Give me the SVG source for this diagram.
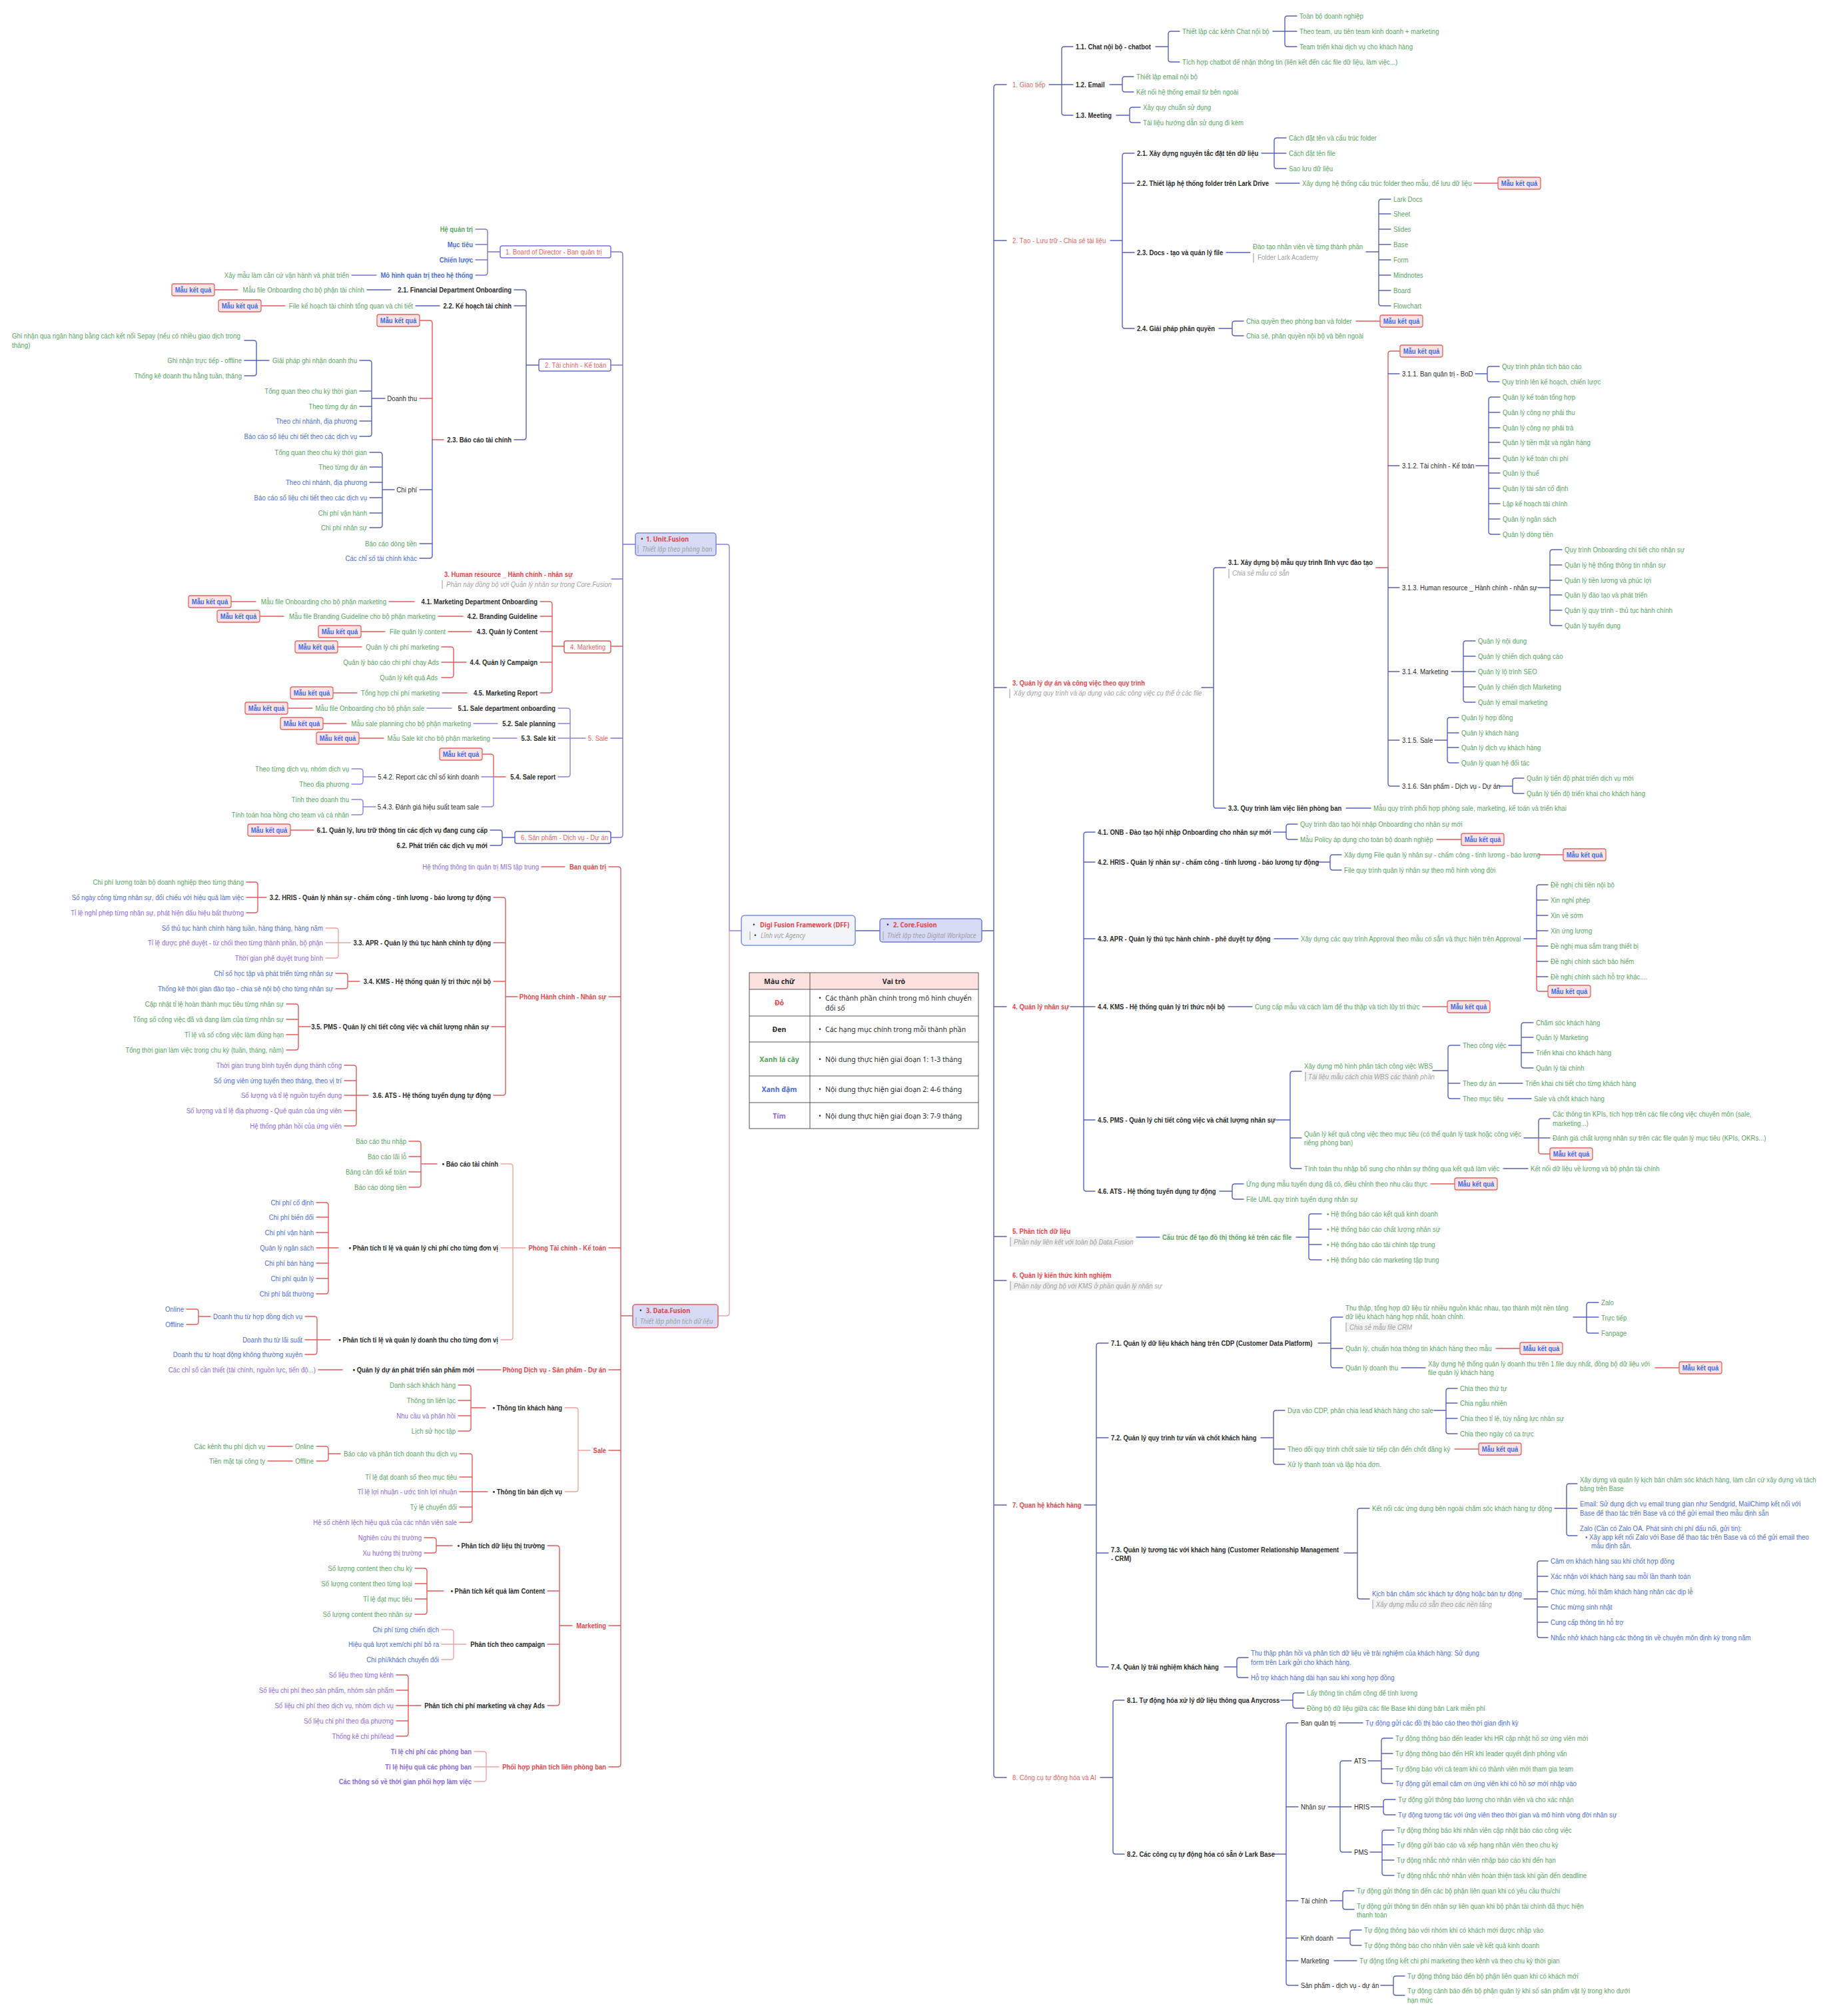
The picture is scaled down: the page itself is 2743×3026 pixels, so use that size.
<svg xmlns="http://www.w3.org/2000/svg" width="2743" height="3026" viewBox="0 0 2743 3026">
<style>
text{font-family:"Liberation Sans Narrow","Arial Narrow","Liberation Sans",sans-serif;font-size:11px;transform-box:fill-box;transform-origin:0 50%;transform:scaleX(.88)}
.e{text-anchor:end;transform-origin:100% 50%}.B{font-weight:bold;transform:scaleX(.86)}
.g{fill:#58a45f}.b{fill:#4a6dd6}.p{fill:#8b68d9}.k{fill:#2b2b2b}.r{fill:#e2474b}.rl{fill:#e36464}.n{fill:#a0a0a0;font-style:italic}
.c path{fill:none;stroke-width:1.4;stroke-linecap:round}
.cb{stroke:#5561b8}.cr{stroke:#e05b5b}.cpk{stroke:#eea3a3}.cv{stroke:#8f7fe0}.cu{stroke:#7b72d6}
.mk rect{fill:#fde2e2;stroke:#e06565;stroke-width:1.3}
.mk text{fill:#3a6cf0;font-weight:bold;font-size:10.5px;text-anchor:middle;transform-origin:50% 50%;transform:scaleX(.9)}
.bx{stroke-width:1.5}
.lg text{font-family:"Noto Sans",sans-serif;font-size:10.5px;transform:none}
.ft{font-family:"Noto Sans",sans-serif;font-size:10.5px;transform:scaleX(.9)}
.bar{stroke:#aaa;stroke-width:1.2}
</style>
<rect width="2743" height="3026" fill="#fff"/>

<g id="connectors" class="c">
<path class="cv" d="M1075,817H1091q4,0 4,4V1397H1113"/>
<path class="cpk" d="M1078,1975H1091q4,0 4,-4V1397"/>
<path class="cb" d="M1284,1397H1321M1474,1397H1492"/>
<path class="cu" d="M917,378H931q4,0 4,4V1253q0,4 -4,4H917M917,548H935M918,869H935M917,1108H935M935,817H954"/>
<path class="cr" d="M917,970H935"/>
<path class="cu" d="M714,344H728q4,0 4,4V409q0,4 -4,4H714M714,367H732M714,390H732M732,378H751M528,413H565"/>
<path class="cb" d="M772,435H786q4,0 4,4V656q0,4 -4,4H772M772,459H790M790,548H809M551,435H587M624,459H660"/>
<path class="cr" d="M322,435H357M392,459H428"/>
<path class="cr" d="M631,481H645q4,0 4,4V660M630,598H649M649,660H666"/>
<path class="cb" d="M649,660V834q0,4 -4,4H630M630,735H649M630,816H649"/>
<path class="cb" d="M540,541H554q4,0 4,4V651q0,4 -4,4H540M540,587H558M540,610H558M540,632H558M558,598H578"/>
<path class="cb" d="M367,511H381q4,0 4,4V560q0,4 -4,4H367M367,541H404"/>
<path class="cb" d="M555,679H570q4,0 4,4V788q0,4 -4,4H555M555,701H574M555,724H574M555,747H574M555,770H574M574,735H592"/>
<path class="cr" d="M811,903H825q4,0 4,4V1036q0,4 -4,4H811M811,925H829M811,948H829M811,994H829M829,970H847"/>
<path class="cr" d="M584,903H622M658,925H695M673,948H708M664,1040H701M347,903H384M390,925H426M542,948H578M507,971H543M500,1040H536"/>
<path class="cr" d="M663,971H677q4,0 4,4V1013q0,4 -4,4H663M663,994H700"/>
<path class="cv" d="M838,1063H852q4,0 4,4V1162q0,4 -4,4H838M838,1086H856M838,1108H879M641,1063H678M711,1086H747M740,1108H776"/>
<path class="cr" d="M432,1063H469M485,1086H520M539,1108H576M724,1132H737q4,0 4,4V1166H759"/>
<path class="cv" d="M741,1166V1207q0,4 -4,4H723M723,1166H741"/>
<path class="cv" d="M528,1154H541q4,0 4,4V1173q0,4 -4,4H528M545,1166H564M528,1200H541q4,0 4,4V1219q0,4 -4,4H528M545,1211H564"/>
<path class="cb" d="M736,1246H750q4,0 4,4V1265q0,4 -4,4H736M754,1257H773"/>
<path class="cr" d="M436,1246H471"/>
<path class="cr" d="M914,1301H928q4,0 4,4V2648q0,4 -4,4H914M914,1496H932M914,1873H932M914,2056H932M914,2177H932M914,2440H932M932,1975H950M813,1301H848"/>
<path class="cr" d="M741,1347H755q4,0 4,4V1640q0,4 -4,4H741M741,1415H759M741,1473H759M738,1541H759M759,1496H777"/>
<path class="cr" d="M370,1324H383q4,0 4,4V1366q0,4 -4,4H370M370,1347H400"/>
<path class="cpk" d="M489,1393H504q4,0 4,4V1434q0,4 -4,4H489M489,1415H526"/>
<path class="cr" d="M504,1461H518q4,0 4,4V1480q0,4 -4,4H504M522,1473H540"/>
<path class="cr" d="M430,1507H444q4,0 4,4V1572q0,4 -4,4H430M430,1530H448M430,1553H448M448,1541H466"/>
<path class="cr" d="M517,1599H531q4,0 4,4V1686q0,4 -4,4H517M517,1622H535M517,1667H535M517,1644H553"/>
<path class="cpk" d="M752,1747H766q4,0 4,4V2007q0,4 -4,4H752M752,1873H789"/>
<path class="cr" d="M614,1713H628q4,0 4,4V1778q0,4 -4,4H614M614,1736H632M614,1759H632M632,1747H656"/>
<path class="cr" d="M475,1805H489q4,0 4,4V1938q0,4 -4,4H475M475,1827H493M475,1850H493M475,1873H508M475,1896H493M475,1919H493"/>
<path class="cr" d="M458,1976H472q4,0 4,4V2029q0,4 -4,4H458M458,2011H496M280,1965H294q4,0 4,4V1984q0,4 -4,4H280M298,1976H316"/>
<path class="cr" d="M716,2056H752M478,2056H514"/>
<path class="cpk" d="M848,2113H864q4,0 4,4V2235q0,4 -4,4H848M868,2177H886"/>
<path class="cr" d="M688,2079H703q4,0 4,4V2144q0,4 -4,4H688M688,2102H707M688,2125H707M707,2113H729"/>
<path class="cr" d="M690,2182H705q4,0 4,4V2281q0,4 -4,4H690M690,2217H709M690,2262H709M690,2239H732"/>
<path class="cr" d="M475,2171H489q4,0 4,4V2189q0,4 -4,4H475M493,2182H511M402,2171H439M402,2193H439"/>
<path class="cr" d="M822,2320H836q4,0 4,4V2556q0,4 -4,4H822M822,2388H840M822,2468H840M840,2440H859"/>
<path class="cr" d="M637,2308H651q4,0 4,4V2327q0,4 -4,4H637M655,2320H679"/>
<path class="cr" d="M623,2354H637q4,0 4,4V2419q0,4 -4,4H623M623,2377H641M623,2400H641M641,2388H666"/>
<path class="cpk" d="M663,2446H677q4,0 4,4V2487q0,4 -4,4H663M663,2468H700"/>
<path class="cr" d="M595,2514H609q4,0 4,4V2602q0,4 -4,4H595M595,2537H613M595,2583H613M595,2560H632"/>
<path class="cpk" d="M712,2629H726q4,0 4,4V2670q0,4 -4,4H712M712,2652H749"/>
<path class="cb" d="M1511,127H1496q-4,0 -4,4V2664q0,4 4,4H1511M1492,361H1511M1492,1032H1511M1492,1511H1511M1492,1856H1511M1492,1922H1511M1492,2259H1511"/>
<path class="cb" d="M1575,127H1594M1611,70H1598q-4,0 -4,4V169q0,4 4,4H1611M1594,127H1611"/>
<path class="cb" d="M1735,70H1754M1771,47H1758q-4,0 -4,4V89q0,4 4,4H1771M1911,47H1947M1947,24H1933q-4,0 -4,4V66q0,4 4,4H1947"/>
<path class="cb" d="M1666,127H1685M1702,115H1689q-4,0 -4,4V134q0,4 4,4H1702M1676,173H1696M1712,161H1700q-4,0 -4,4V180q0,4 4,4H1712"/>
<path class="cb" d="M1667,361H1685M1703,230H1689q-4,0 -4,4V489q0,4 4,4H1703M1685,275H1703M1685,379H1703"/>
<path class="cb" d="M1894,230H1931M1931,207H1917q-4,0 -4,4V249q0,4 4,4H1931M1915,275H1951M1841,379H1877"/>
<path class="cr" d="M2213,275H2249M2036,482H2072"/>
<path class="cb" d="M2051,378H2070M2088,299H2074q-4,0 -4,4V455q0,4 4,4H2088M2070,321H2088M2070,344H2088M2070,367H2088M2070,390H2088M2070,413H2088M2070,436H2088"/>
<path class="cb" d="M1830,493H1850M1867,482H1854q-4,0 -4,4V500q0,4 4,4H1867"/>
<path class="cb" d="M1804,1032H1822M1840,852H1826q-4,0 -4,4V1209q0,4 4,4H1840M2021,1213H2058"/>
<path class="cr" d="M2066,852H2084V531q0,-4 4,-4H2102"/>
<path class="cb" d="M2084,852V1176q0,4 4,4H2101M2084,561H2101M2084,699H2101M2084,882H2101M2084,1008H2101M2084,1111H2101"/>
<path class="cb" d="M2215,561H2233M2251,550H2237q-4,0 -4,4V569q0,4 4,4H2251"/>
<path class="cb" d="M2216,699H2235M2252,596H2239q-4,0 -4,4V798q0,4 4,4H2252M2235,619H2252M2235,642H2252M2235,664H2252M2235,688H2252M2235,710H2252M2235,733H2252M2235,756H2252M2235,779H2252"/>
<path class="cb" d="M2309,882H2327M2345,825H2331q-4,0 -4,4V935q0,4 4,4H2345M2327,848H2345M2327,871H2345M2327,893H2345M2327,916H2345"/>
<path class="cb" d="M2179,1008H2215M2215,962H2201q-4,0 -4,4V1050q0,4 4,4H2215M2197,985H2215M2197,1031H2215"/>
<path class="cb" d="M2154,1111H2173M2190,1077H2177q-4,0 -4,4V1141q0,4 4,4H2190M2173,1100H2190M2173,1122H2190"/>
<path class="cb" d="M2251,1180H2271M2288,1168H2275q-4,0 -4,4V1187q0,4 4,4H2288"/>
<path class="cb" d="M1607,1511H1644M1644,1249H1631q-4,0 -4,4V1784q0,4 4,4H1644M1627,1294H1644M1627,1409H1644M1627,1681H1644"/>
<path class="cb" d="M1912,1249H1931M1948,1237H1935q-4,0 -4,4V1256q0,4 4,4H1948M1978,1294H1997M2014,1283H2001q-4,0 -4,4V1302q0,4 4,4H2014"/>
<path class="cr" d="M2157,1260H2194M2310,1283H2347M2136,1511H2173M2148,1777H2184M2246,2024H2282M2485,2053H2521M2184,2175H2220"/>
<path class="cb" d="M1913,1409H1949M2288,1409H2307M2324,1328H2311q-4,0 -4,4V1409M2307,1351H2324M2307,1374H2324M2307,1397H2324M2307,1420H2324M2307,1443H2324M2307,1466H2324"/>
<path class="cr" d="M2307,1409V1484q0,4 4,4H2324"/>
<path class="cb" d="M1844,1511H1880"/>
<path class="cb" d="M1916,1681H1937M1954,1608H1941q-4,0 -4,4V1750q0,4 4,4H1954M1937,1708H1954"/>
<path class="cb" d="M2151,1607H2174M2192,1569H2178q-4,0 -4,4V1645q0,4 4,4H2192M2174,1626H2192M2265,1569H2284M2302,1535H2288q-4,0 -4,4V1599q0,4 4,4H2302M2284,1557H2302M2284,1580H2302M2250,1626H2286M2264,1649H2299"/>
<path class="cb" d="M2288,1708H2327M2327,1679H2314q-4,0 -4,4V1708M2257,1754H2294"/>
<path class="cr" d="M2310,1708V1728q0,4 4,4H2327"/>
<path class="cb" d="M1831,1788H1850M1867,1777H1854q-4,0 -4,4V1796q0,4 4,4H1867"/>
<path class="cb" d="M1706,1857H1741M1946,1857H1965M1984,1822H1969q-4,0 -4,4V1887q0,4 4,4H1984M1965,1845H1984M1965,1868H1984"/>
<path class="cb" d="M1628,2259H1646M1664,2016H1650q-4,0 -4,4V2498q0,4 4,4H1664M1646,2158H1664M1646,2331H1664"/>
<path class="cb" d="M1979,2016H1998M2016,1977H2002q-4,0 -4,4V2049q0,4 4,4H2016M1998,2024H2016M2362,1977H2400M2400,1955H2386q-4,0 -4,4V1997q0,4 4,4H2400M2104,2053H2140"/>
<path class="cb" d="M1893,2158H1912M1929,2117H1916q-4,0 -4,4V2194q0,4 4,4H1929M1912,2175H1929M2153,2117H2171M2188,2084H2175q-4,0 -4,4V2148q0,4 4,4H2188M2171,2106H2188M2171,2129H2188"/>
<path class="cb" d="M2018,2331H2038M2056,2264H2042q-4,0 -4,4V2396q0,4 4,4H2056M2334,2264H2368M2368,2227H2356q-4,0 -4,4V2301q0,4 4,4H2368"/>
<path class="cb" d="M2288,2400H2308M2324,2343H2312q-4,0 -4,4V2454q0,4 4,4H2324M2308,2366H2324M2308,2389H2324M2308,2412H2324M2308,2435H2324"/>
<path class="cb" d="M1838,2502H1857M1874,2488H1861q-4,0 -4,4V2514q0,4 4,4H1874"/>
<path class="cb" d="M1652,2668H1671M1688,2552H1675q-4,0 -4,4V2779q0,4 4,4H1688M1923,2552H1941M1958,2541H1945q-4,0 -4,4V2560q0,4 4,4H1958"/>
<path class="cb" d="M1913,2783H1931M1949,2586H1935q-4,0 -4,4V2976q0,4 4,4H1949M1931,2712H1949M1931,2853H1949M1931,2909H1949M1931,2943H1949M2010,2586H2046"/>
<path class="cb" d="M1994,2712H2029M2029,2643H2016q-4,0 -4,4V2776q0,4 4,4H2029M2054,2643H2074M2091,2609H2078q-4,0 -4,4V2673q0,4 4,4H2091M2074,2632H2091M2074,2655H2091"/>
<path class="cb" d="M2058,2712H2077M2095,2701H2081q-4,0 -4,4V2720q0,4 4,4H2095M2057,2780H2075M2093,2747H2079q-4,0 -4,4V2811q0,4 4,4H2093M2075,2769H2093M2075,2792H2093"/>
<path class="cb" d="M1997,2853H2016M2033,2838H2020q-4,0 -4,4V2862q0,4 4,4H2033M2008,2909H2027M2044,2897H2031q-4,0 -4,4V2916q0,4 4,4H2044M2003,2943H2037M2073,2980H2092M2109,2966H2096q-4,0 -4,4V2991q0,4 4,4H2109"/>
</g>

<g id="root"><rect x="1113" y="1374" width="171" height="45" rx="5" fill="#f2f3f7" stroke="#7a93d8" class="bx"/><text class="ft k" x="1130" y="1392">•</text><text class="ft r B" x="1141" y="1392">Digi Fusion Framework (DFF)</text><line class="bar" x1="1126" y1="1398" x2="1126" y2="1411"/><text class="ft k" x="1132" y="1408">•</text><text class="ft n" x="1142" y="1408">Lĩnh vực Agency</text></g>
<g id="core"><rect x="1321" y="1379" width="153" height="35" rx="4" fill="#d6daf4" stroke="#6f7dd0" class="bx"/><text class="ft k" x="1331" y="1392">•</text><text class="ft r B" x="1341" y="1392">2. Core.Fusion</text><line class="bar" x1="1326" y1="1398" x2="1326" y2="1411"/><text class="ft n" x="1332" y="1408">Thiết lập theo Digital Workplace</text></g>
<g id="unit"><rect x="954" y="800" width="121" height="34" rx="4" fill="#d6daf4" stroke="#7b86d6" class="bx"/><text class="ft k" x="962" y="813">•</text><text class="ft r B" x="970" y="813">1. Unit.Fusion</text><line class="bar" x1="958" y1="818" x2="958" y2="831"/><text class="ft n" x="964" y="828">Thiết lập theo phòng ban</text></g>
<g id="data"><rect x="950" y="1958" width="128" height="35" rx="4" fill="#d6daf4" stroke="#e06060" class="bx"/><text class="ft k" x="960" y="1971">•</text><text class="ft r B" x="970" y="1971">3. Data.Fusion</text><line class="bar" x1="955" y1="1977" x2="955" y2="1990"/><text class="ft n" x="961" y="1987">Thiết lập phân tích dữ liệu</text></g>

<g id="legend" class="lg">
<rect x="1125" y="1460" width="344" height="25" fill="#fde0e0"/>
<rect x="1125" y="1460" width="344" height="234" fill="none" stroke="#555" stroke-width="1"/>
<path d="M1216,1460V1694M1125,1485H1469M1125,1525H1469M1125,1564H1469M1125,1615H1469M1125,1655H1469" stroke="#555" stroke-width="1" fill="none"/>
<text x="1170" y="1477" text-anchor="middle" class="k B">Màu chữ</text>
<text x="1342" y="1477" text-anchor="middle" class="k B">Vai trò</text>
<text x="1170" y="1509" text-anchor="middle" class="r B">Đỏ</text>
<text x="1229" y="1502" class="k">•</text><text x="1239" y="1502" class="k">Các thành phần chính trong mô hình chuyển</text><text x="1239" y="1517" class="k">đổi số</text>
<text x="1170" y="1549" text-anchor="middle" class="k B">Đen</text>
<text x="1229" y="1549" class="k">•</text><text x="1239" y="1549" class="k">Các hạng mục chính trong mỗi thành phần</text>
<text x="1170" y="1594" text-anchor="middle" class="g B">Xanh lá cây</text>
<text x="1229" y="1594" class="k">•</text><text x="1239" y="1594" class="k">Nội dung thực hiện giai đoạn 1: 1-3 tháng</text>
<text x="1170" y="1639" text-anchor="middle" class="b B">Xanh đậm</text>
<text x="1229" y="1639" class="k">•</text><text x="1239" y="1639" class="k">Nội dung thực hiện giai đoạn 2: 4-6 tháng</text>
<text x="1170" y="1679" text-anchor="middle" class="p B">Tím</text>
<text x="1229" y="1679" class="k">•</text><text x="1239" y="1679" class="k">Nội dung thực hiện giai đoạn 3: 7-9 tháng</text>
</g>

<g id="u-board"><rect x="751" y="369" width="166" height="18" rx="3" fill="#fff" stroke="#7b72d6" class="bx"/><text class="rl" x="759" y="382">1. Board of Director - Ban quản trị</text></g>
<g id="u1"><text class="g B e" x="710" y="348">Hệ quản trị</text></g>
<g id="u2"><text class="b B e" x="710" y="371">Mục tiêu</text></g>
<g id="u3"><text class="b B e" x="710" y="394">Chiến lược</text></g>
<g id="u4"><text class="b B e" x="710" y="417">Mô hình quản trị theo hệ thống</text></g>
<g id="u5"><text class="g e" x="524" y="417">Xây mẫu làm căn cứ vận hành và phát triển</text></g>
<g id="u-tc"><rect x="809" y="539" width="108" height="18" rx="3" fill="#fff" stroke="#6670c8" class="bx"/><text class="rl" x="818" y="552">2. Tài chính - Kế toán</text></g>
<g id="u6"><text class="k B e" x="768" y="439">2.1. Financial Department Onboarding</text></g>
<g id="u7"><text class="g e" x="547" y="439">Mẫu file Onboarding cho bộ phận tài chính</text></g>
<g id="mk1" class="mk"><rect x="258" y="426" width="64" height="18" rx="3"/><text x="290" y="439">Mẫu kết quả</text></g>
<g id="u8"><text class="k B e" x="768" y="463">2.2. Kế hoạch tài chính</text></g>
<g id="u9"><text class="g e" x="620" y="463">File kế hoạch tài chính tổng quan và chi tiết</text></g>
<g id="mk2" class="mk"><rect x="328" y="450" width="64" height="18" rx="3"/><text x="360" y="463">Mẫu kết quả</text></g>
<g id="u10"><text class="k B e" x="768" y="664">2.3. Báo cáo tài chính</text></g>
<g id="mk3" class="mk"><rect x="566" y="472" width="64" height="18" rx="3"/><text x="598" y="485">Mẫu kết quả</text></g>
<g id="u11"><text class="k e" x="626" y="602">Doanh thu</text></g>
<g id="u12"><text class="g e" x="536" y="545">Giải pháp ghi nhận doanh thu</text></g>
<g id="u13"><text class="g" x="18" y="508">Ghi nhận qua ngân hàng bằng cách kết nối Sepay (nếu có nhiều giao dịch trong</text><text class="g" x="18" y="522">tháng)</text></g>
<g id="u14"><text class="g e" x="363" y="545">Ghi nhận trực tiếp - offline</text></g>
<g id="u15"><text class="g e" x="363" y="568">Thống kê doanh thu hằng tuần, tháng</text></g>
<g id="u16"><text class="g e" x="536" y="591">Tổng quan theo chu kỳ thời gian</text></g>
<g id="u17"><text class="g e" x="536" y="614">Theo từng dự án</text></g>
<g id="u18"><text class="b e" x="536" y="636">Theo chi nhánh, địa phương</text></g>
<g id="u19"><text class="b e" x="536" y="659">Báo cáo số liệu chi tiết theo các dịch vụ</text></g>
<g id="u20"><text class="k e" x="626" y="739">Chi phí</text></g>
<g id="u21"><text class="g e" x="551" y="683">Tổng quan theo chu kỳ thời gian</text></g>
<g id="u22"><text class="g e" x="551" y="705">Theo từng dự án</text></g>
<g id="u23"><text class="b e" x="551" y="728">Theo chi nhánh, địa phương</text></g>
<g id="u24"><text class="b e" x="551" y="751">Báo cáo số liệu chi tiết theo các dịch vụ</text></g>
<g id="u25"><text class="g e" x="551" y="774">Chi phí vận hành</text></g>
<g id="u26"><text class="g e" x="551" y="796">Chi phí nhân sự</text></g>
<g id="u27"><text class="g e" x="626" y="820">Báo cáo dòng tiền</text></g>
<g id="u28"><text class="b e" x="626" y="842">Các chỉ số tài chính khác</text></g>
<g id="u-hr"><text class="r B" x="667" y="866">3. Human resource _ Hành chính - nhân sự</text><line class="bar" x1="664" y1="871" x2="664" y2="884"/><text class="n" x="670" y="881">Phần này đồng bộ với Quản lý nhân sự trong Core.Fusion</text></g>
<g id="u-mkt"><rect x="847" y="962" width="70" height="18" rx="3" fill="#fff" stroke="#e05b5b" class="bx"/><text class="rl" x="856" y="975">4. Marketing</text></g>
<g id="u29"><text class="k B e" x="807" y="907">4.1. Marketing Department Onboarding</text></g>
<g id="u30"><text class="g e" x="580" y="907">Mẫu file Onboarding cho bộ phận marketing</text></g>
<g id="mk4" class="mk"><rect x="283" y="894" width="64" height="18" rx="3"/><text x="315" y="907">Mẫu kết quả</text></g>
<g id="u31"><text class="k B e" x="807" y="929">4.2. Branding Guideline</text></g>
<g id="u32"><text class="g e" x="654" y="929">Mẫu file Branding Guideline cho bộ phận marketing</text></g>
<g id="mk5" class="mk"><rect x="326" y="916" width="64" height="18" rx="3"/><text x="358" y="929">Mẫu kết quả</text></g>
<g id="u33"><text class="k B e" x="807" y="952">4.3. Quản lý Content</text></g>
<g id="u34"><text class="g e" x="669" y="952">File quản lý content</text></g>
<g id="mk6" class="mk"><rect x="478" y="939" width="64" height="18" rx="3"/><text x="510" y="952">Mẫu kết quả</text></g>
<g id="u35"><text class="k B e" x="807" y="998">4.4. Quản lý Campaign</text></g>
<g id="u36"><text class="g e" x="659" y="975">Quản lý chi phí marketing</text></g>
<g id="mk7" class="mk"><rect x="443" y="962" width="64" height="18" rx="3"/><text x="475" y="975">Mẫu kết quả</text></g>
<g id="u37"><text class="g e" x="659" y="998">Quản lý báo cáo chi phí chạy Ads</text></g>
<g id="u38"><text class="g e" x="657" y="1021">Quản lý kết quả Ads</text></g>
<g id="u39"><text class="k B e" x="807" y="1044">4.5. Marketing Report</text></g>
<g id="u40"><text class="g e" x="660" y="1044">Tổng hợp chi phí marketing</text></g>
<g id="mk8" class="mk"><rect x="436" y="1031" width="64" height="18" rx="3"/><text x="468" y="1044">Mẫu kết quả</text></g>
<g id="u-sale"><text class="rl e" x="913" y="1112">5. Sale</text></g>
<g id="u41"><text class="k B e" x="834" y="1067">5.1. Sale department onboarding</text></g>
<g id="u42"><text class="g e" x="637" y="1067">Mẫu file Onboarding cho bộ phận sale</text></g>
<g id="mk9" class="mk"><rect x="368" y="1054" width="64" height="18" rx="3"/><text x="400" y="1067">Mẫu kết quả</text></g>
<g id="u43"><text class="k B e" x="834" y="1090">5.2. Sale planning</text></g>
<g id="u44"><text class="g e" x="707" y="1090">Mẫu sale planning cho bộ phận marketing</text></g>
<g id="mk10" class="mk"><rect x="421" y="1077" width="64" height="18" rx="3"/><text x="453" y="1090">Mẫu kết quả</text></g>
<g id="u45"><text class="k B e" x="834" y="1112">5.3. Sale kit</text></g>
<g id="u46"><text class="g e" x="736" y="1112">Mẫu Sale kit cho bộ phận marketing</text></g>
<g id="mk11" class="mk"><rect x="475" y="1099" width="64" height="18" rx="3"/><text x="507" y="1112">Mẫu kết quả</text></g>
<g id="u47"><text class="k B e" x="834" y="1170">5.4. Sale report</text></g>
<g id="mk12" class="mk"><rect x="660" y="1123" width="64" height="18" rx="3"/><text x="692" y="1136">Mẫu kết quả</text></g>
<g id="u48"><text class="k e" x="719" y="1170">5.4.2. Report các chỉ số kinh doanh</text></g>
<g id="u49"><text class="g e" x="524" y="1158">Theo từng dịch vụ, nhóm dịch vụ</text></g>
<g id="u50"><text class="g e" x="524" y="1181">Theo địa phương</text></g>
<g id="u51"><text class="k e" x="719" y="1215">5.4.3. Đánh giá hiệu suất team sale</text></g>
<g id="u52"><text class="g e" x="524" y="1204">Tính theo doanh thu</text></g>
<g id="u53"><text class="g e" x="524" y="1227">Tính toán hoa hồng cho team và cá nhân</text></g>
<g id="u-sp"><rect x="773" y="1248" width="144" height="18" rx="3" fill="#fff" stroke="#5561b8" class="bx"/><text class="rl" x="782" y="1261">6. Sản phẩm - Dịch vụ - Dự án</text></g>
<g id="u54"><text class="k B e" x="732" y="1250">6.1. Quản lý, lưu trữ thông tin các dịch vụ đang cung cấp</text></g>
<g id="mk13" class="mk"><rect x="372" y="1237" width="64" height="18" rx="3"/><text x="404" y="1250">Mẫu kết quả</text></g>
<g id="u55"><text class="k B e" x="732" y="1273">6.2. Phát triển các dịch vụ mới</text></g>

<g id="d1"><text class="p e" x="809" y="1305">Hệ thống thông tin quản trị MIS tập trung</text></g>
<g id="d-bqt"><text class="r B e" x="910" y="1305">Ban quản trị</text></g>
<g id="d-hc"><text class="r B e" x="910" y="1500">Phòng Hành chính - Nhân sự</text></g>
<g id="d2"><text class="k B e" x="737" y="1351">3.2. HRIS - Quản lý nhân sự - chấm công - tính lương - báo lương tự động</text></g>
<g id="d3"><text class="g e" x="366" y="1328">Chi phí lương toàn bộ doanh nghiệp theo từng tháng</text></g>
<g id="d4"><text class="b e" x="366" y="1351">Số ngày công từng nhân sự, đối chiếu với hiệu quả làm việc</text></g>
<g id="d5"><text class="p e" x="366" y="1374">Tỉ lệ nghỉ phép từng nhân sự, phát hiện dấu hiệu bất thường</text></g>
<g id="d6"><text class="k B e" x="737" y="1419">3.3. APR - Quản lý thủ tục hành chính tự động</text></g>
<g id="d7"><text class="b e" x="485" y="1397">Số thủ tục hành chính hàng tuần, hàng tháng, hàng năm</text></g>
<g id="d8"><text class="p e" x="485" y="1419">Tỉ lệ được phê duyệt - từ chối theo từng thành phần, bộ phận</text></g>
<g id="d9"><text class="p e" x="485" y="1442">Thời gian phê duyệt trung bình</text></g>
<g id="d10"><text class="k B e" x="737" y="1477">3.4. KMS - Hệ thống quản lý tri thức nội bộ</text></g>
<g id="d11"><text class="b e" x="500" y="1465">Chỉ số học tập và phát triển từng nhân sự</text></g>
<g id="d12"><text class="b e" x="500" y="1488">Thống kê thời gian đào tạo - chia sẻ nội bộ cho từng nhân sự</text></g>
<g id="d13"><text class="k B e" x="734" y="1545">3.5. PMS - Quản lý chi tiết công việc và chất lượng nhân sự</text></g>
<g id="d14"><text class="g e" x="426" y="1511">Cập nhật tỉ lệ hoàn thành mục tiêu từng nhân sự</text></g>
<g id="d15"><text class="g e" x="426" y="1534">Tổng số công việc đã và đang làm của từng nhân sự</text></g>
<g id="d16"><text class="g e" x="426" y="1557">Tỉ lệ và số công việc làm đúng hạn</text></g>
<g id="d17"><text class="g e" x="426" y="1580">Tổng thời gian làm việc trong chu kỳ (tuần, tháng, năm)</text></g>
<g id="d18"><text class="k B e" x="737" y="1648">3.6. ATS - Hệ thống tuyển dụng tự động</text></g>
<g id="d19"><text class="p e" x="513" y="1603">Thời gian trung bình tuyển dụng thành công</text></g>
<g id="d20"><text class="b e" x="513" y="1626">Số ứng viên ứng tuyển theo tháng, theo vị trí</text></g>
<g id="d21"><text class="p e" x="513" y="1648">Số lượng và tỉ lệ nguồn tuyển dụng</text></g>
<g id="d22"><text class="p e" x="513" y="1671">Số lượng và tỉ lệ địa phương - Quê quán của ứng viên</text></g>
<g id="d23"><text class="p e" x="513" y="1694">Hệ thống phản hồi của ứng viên</text></g>
<g id="d-tc"><text class="r B e" x="910" y="1877">Phòng Tài chính - Kế toán</text></g>
<g id="d24"><text class="k B e" x="748" y="1751">• Báo cáo tài chính</text></g>
<g id="d25"><text class="g e" x="610" y="1717">Báo cáo thu nhập</text></g>
<g id="d26"><text class="g e" x="610" y="1740">Báo cáo lãi lỗ</text></g>
<g id="d27"><text class="g e" x="610" y="1763">Bảng cân đối kế toán</text></g>
<g id="d28"><text class="g e" x="610" y="1786">Báo cáo dòng tiền</text></g>
<g id="d29"><text class="k B e" x="748" y="1877">• Phân tích tỉ lệ và quản lý chi phí cho từng đơn vị</text></g>
<g id="d30"><text class="b e" x="471" y="1809">Chi phí cố định</text></g>
<g id="d31"><text class="b e" x="471" y="1831">Chi phí biến đổi</text></g>
<g id="d32"><text class="b e" x="471" y="1854">Chi phí vận hành</text></g>
<g id="d33"><text class="b e" x="471" y="1877">Quản lý ngân sách</text></g>
<g id="d34"><text class="b e" x="471" y="1900">Chi phí bán hàng</text></g>
<g id="d35"><text class="b e" x="471" y="1923">Chi phí quản lý</text></g>
<g id="d36"><text class="b e" x="471" y="1946">Chi phí bất thường</text></g>
<g id="d37"><text class="k B e" x="748" y="2015">• Phân tích tỉ lệ và quản lý doanh thu cho từng đơn vị</text></g>
<g id="d38"><text class="b e" x="454" y="1980">Doanh thu từ hợp đồng dịch vụ</text></g>
<g id="d39"><text class="b e" x="276" y="1969">Online</text></g>
<g id="d40"><text class="b e" x="276" y="1992">Offline</text></g>
<g id="d41"><text class="b e" x="454" y="2015">Doanh thu từ lãi suất</text></g>
<g id="d42"><text class="b e" x="454" y="2037">Doanh thu từ hoạt động không thường xuyên</text></g>
<g id="d-dv"><text class="r B e" x="910" y="2060">Phòng Dịch vụ - Sản phẩm - Dự án</text></g>
<g id="d43"><text class="k B e" x="712" y="2060">• Quản lý dự án phát triển sản phẩm mới</text></g>
<g id="d44"><text class="p e" x="474" y="2060">Các chỉ số cần thiết (tài chính, nguồn lực, tiến độ...)</text></g>
<g id="d-sale"><text class="r B e" x="910" y="2181">Sale</text></g>
<g id="d45"><text class="k B e" x="844" y="2117">• Thông tin khách hàng</text></g>
<g id="d46"><text class="g e" x="684" y="2083">Danh sách khách hàng</text></g>
<g id="d47"><text class="g e" x="684" y="2106">Thông tin liên lạc</text></g>
<g id="d48"><text class="p e" x="684" y="2129">Nhu cầu và phản hồi</text></g>
<g id="d49"><text class="g e" x="684" y="2152">Lịch sử học tập</text></g>
<g id="d50"><text class="k B e" x="844" y="2243">• Thông tin bán dịch vụ</text></g>
<g id="d51"><text class="g e" x="686" y="2186">Báo cáo và phân tích doanh thu dịch vụ</text></g>
<g id="d52"><text class="g e" x="471" y="2175">Online</text></g>
<g id="d53"><text class="g e" x="471" y="2197">Offline</text></g>
<g id="d54"><text class="g e" x="398" y="2175">Các kênh thu phí dịch vụ</text></g>
<g id="d55"><text class="g e" x="398" y="2197">Tiền mặt tại công ty</text></g>
<g id="d56"><text class="g e" x="686" y="2221">Tỉ lệ đạt doanh số theo mục tiêu</text></g>
<g id="d57"><text class="p e" x="686" y="2243">Tỉ lệ lợi nhuận - ước tính lợi nhuận</text></g>
<g id="d58"><text class="g e" x="686" y="2266">Tỷ lệ chuyển đổi</text></g>
<g id="d59"><text class="p e" x="686" y="2289">Hệ số chênh lệch hiệu quả của các nhân viên sale</text></g>
<g id="d-mkt"><text class="r B e" x="910" y="2444">Marketing</text></g>
<g id="d60"><text class="k B e" x="818" y="2324">• Phân tích dữ liệu thị trường</text></g>
<g id="d61"><text class="p e" x="633" y="2312">Nghiên cứu thị trường</text></g>
<g id="d62"><text class="p e" x="633" y="2335">Xu hướng thị trường</text></g>
<g id="d63"><text class="k B e" x="818" y="2392">• Phân tích kết quả làm Content</text></g>
<g id="d64"><text class="g e" x="619" y="2358">Số lượng content theo chu kỳ</text></g>
<g id="d65"><text class="g e" x="619" y="2381">Số lượng content theo từng loại</text></g>
<g id="d66"><text class="g e" x="619" y="2404">Tỉ lệ đạt mục tiêu</text></g>
<g id="d67"><text class="g e" x="619" y="2427">Số lượng content theo nhân sự</text></g>
<g id="d68"><text class="k B e" x="818" y="2472">Phân tích theo campaign</text></g>
<g id="d69"><text class="b e" x="659" y="2450">Chi phí từng chiến dịch</text></g>
<g id="d70"><text class="b e" x="659" y="2472">Hiệu quả lượt xem/chi phí bỏ ra</text></g>
<g id="d71"><text class="b e" x="659" y="2495">Chi phí/khách chuyển đổi</text></g>
<g id="d72"><text class="k B e" x="818" y="2564">Phân tích chi phí marketing và chạy Ads</text></g>
<g id="d73"><text class="p e" x="591" y="2518">Số liệu theo từng kênh</text></g>
<g id="d74"><text class="p e" x="591" y="2541">Số liệu chi phí theo sản phẩm, nhóm sản phẩm</text></g>
<g id="d75"><text class="p e" x="591" y="2564">Số liệu chi phí theo dịch vụ, nhóm dịch vụ</text></g>
<g id="d76"><text class="p e" x="591" y="2587">Số liệu chi phí theo địa phương</text></g>
<g id="d77"><text class="p e" x="591" y="2610">Thống kê chi phí/lead</text></g>
<g id="d-ph"><text class="r B e" x="910" y="2656">Phối hợp phân tích liên phòng ban</text></g>
<g id="d78"><text class="p B e" x="708" y="2633">Tỉ lệ chi phí các phòng ban</text></g>
<g id="d79"><text class="p B e" x="708" y="2656">Tỉ lệ hiệu quả các phòng ban</text></g>
<g id="d80"><text class="p B e" x="708" y="2678">Các thông số về thời gian phối hợp làm việc</text></g>

<g id="c1"><text class="rl" x="1520" y="131">1. Giao tiếp</text></g>
<g id="c2"><text class="k B" x="1615" y="74">1.1. Chat nội bộ - chatbot</text></g>
<g id="c3"><text class="g" x="1775" y="51">Thiết lập các kênh Chat nội bộ</text></g>
<g id="c4"><text class="g" x="1951" y="28">Toàn bộ doanh nghiệp</text></g>
<g id="c5"><text class="g" x="1951" y="51">Theo team, ưu tiên team kinh doanh + marketing</text></g>
<g id="c6"><text class="g" x="1951" y="74">Team triển khai dịch vụ cho khách hàng</text></g>
<g id="c7"><text class="g" x="1775" y="97">Tích hợp chatbot để nhận thông tin (liên kết đến các file dữ liệu, làm việc...)</text></g>
<g id="c8"><text class="k B" x="1615" y="131">1.2. Email</text></g>
<g id="c9"><text class="g" x="1706" y="119">Thiết lập email nội bộ</text></g>
<g id="c10"><text class="g" x="1706" y="142">Kết nối hệ thống email từ bên ngoài</text></g>
<g id="c11"><text class="k B" x="1615" y="177">1.3. Meeting</text></g>
<g id="c12"><text class="g" x="1716" y="165">Xây quy chuẩn sử dụng</text></g>
<g id="c13"><text class="g" x="1716" y="188">Tài liệu hướng dẫn sử dụng đi kèm</text></g>
<g id="c14"><text class="rl" x="1520" y="365">2. Tạo - Lưu trữ - Chia sẻ tài liệu</text></g>
<g id="c15"><text class="k B" x="1707" y="234">2.1. Xây dựng nguyên tắc đặt tên dữ liệu</text></g>
<g id="c16"><text class="g" x="1935" y="211">Cách đặt tên và cấu trúc folder</text></g>
<g id="c17"><text class="g" x="1935" y="234">Cách đặt tên file</text></g>
<g id="c18"><text class="g" x="1935" y="257">Sao lưu dữ liệu</text></g>
<g id="c19"><text class="k B" x="1707" y="279">2.2. Thiết lập hệ thống folder trên Lark Drive</text></g>
<g id="c20"><text class="g" x="1955" y="279">Xây dựng hệ thống cấu trúc folder theo mẫu, để lưu dữ liệu</text></g>
<g id="mk14" class="mk"><rect x="2249" y="266" width="64" height="18" rx="3"/><text x="2281" y="279">Mẫu kết quả</text></g>
<g id="c21"><text class="k B" x="1707" y="383">2.3. Docs - tạo và quản lý file</text></g>
<g id="c22"><text class="g" x="1881" y="374">Đào tạo nhân viên về từng thành phần</text><line class="bar" x1="1882" y1="380" x2="1882" y2="394"/><text fill="#a0a0a0" x="1888" y="390">Folder Lark Academy</text></g>
<g id="c23"><text class="g" x="2092" y="303">Lark Docs</text></g>
<g id="c24"><text class="g" x="2092" y="325">Sheet</text></g>
<g id="c25"><text class="g" x="2092" y="348">Slides</text></g>
<g id="c26"><text class="g" x="2092" y="371">Base</text></g>
<g id="c27"><text class="g" x="2092" y="394">Form</text></g>
<g id="c28"><text class="g" x="2092" y="417">Mindnotes</text></g>
<g id="c29"><text class="g" x="2092" y="440">Board</text></g>
<g id="c30"><text class="g" x="2092" y="463">Flowchart</text></g>
<g id="c31"><text class="k B" x="1707" y="497">2.4. Giải pháp phân quyền</text></g>
<g id="c32"><text class="g" x="1871" y="486">Chia quyền theo phòng ban và folder</text></g>
<g id="mk15" class="mk"><rect x="2072" y="473" width="64" height="18" rx="3"/><text x="2104" y="486">Mẫu kết quả</text></g>
<g id="c33"><text class="g" x="1871" y="508">Chia sẻ, phân quyền nội bộ và bên ngoài</text></g>
<g id="c34"><text class="r B" x="1520" y="1029">3. Quản lý dự án và công việc theo quy trình</text><line class="bar" x1="1516" y1="1034" x2="1516" y2="1048"/><text class="n" x="1522" y="1044">Xây dựng quy trình và áp dụng vào các công việc cụ thể ở các file</text></g>
<g id="c35"><text class="k B" x="1844" y="848">3.1. Xây dựng bộ mẫu quy trình lĩnh vực đào tạo</text><line class="bar" x1="1845" y1="854" x2="1845" y2="868"/><text class="n" x="1850" y="864">Chia sẻ mẫu có sẵn</text></g>
<g id="mk16" class="mk"><rect x="2102" y="518" width="64" height="18" rx="3"/><text x="2134" y="531">Mẫu kết quả</text></g>
<g id="c36"><text class="k" x="2105" y="565">3.1.1. Ban quản trị - BoD</text></g>
<g id="c37"><text class="g" x="2255" y="554">Quy trình phân tích báo cáo</text></g>
<g id="c38"><text class="g" x="2255" y="577">Quy trình lên kế hoạch, chiến lược</text></g>
<g id="c39"><text class="k" x="2105" y="703">3.1.2. Tài chính - Kế toán</text></g>
<g id="c40"><text class="g" x="2256" y="600">Quản lý kế toán tổng hợp</text></g>
<g id="c41"><text class="g" x="2256" y="623">Quản lý công nợ phải thu</text></g>
<g id="c42"><text class="g" x="2256" y="646">Quản lý công nợ phải trả</text></g>
<g id="c43"><text class="g" x="2256" y="668">Quản lý tiền mặt và ngân hàng</text></g>
<g id="c44"><text class="g" x="2256" y="692">Quản lý kế toán chi phí</text></g>
<g id="c45"><text class="g" x="2256" y="714">Quản lý thuế</text></g>
<g id="c46"><text class="g" x="2256" y="737">Quản lý tài sản cố định</text></g>
<g id="c47"><text class="g" x="2256" y="760">Lập kế hoạch tài chính</text></g>
<g id="c48"><text class="g" x="2256" y="783">Quản lý ngân sách</text></g>
<g id="c49"><text class="g" x="2256" y="806">Quản lý dòng tiền</text></g>
<g id="c50"><text class="k" x="2105" y="886">3.1.3. Human resource _ Hành chính - nhân sự</text></g>
<g id="c51"><text class="g" x="2349" y="829">Quy trình Onboarding chi tiết cho nhân sự</text></g>
<g id="c52"><text class="g" x="2349" y="852">Quản lý hệ thống thông tin nhân sự</text></g>
<g id="c53"><text class="g" x="2349" y="875">Quản lý tiền lương và phúc lợi</text></g>
<g id="c54"><text class="g" x="2349" y="897">Quản lý đào tạo và phát triển</text></g>
<g id="c55"><text class="g" x="2349" y="920">Quản lý quy trình - thủ tục hành chính</text></g>
<g id="c56"><text class="g" x="2349" y="943">Quản lý tuyển dụng</text></g>
<g id="c57"><text class="k" x="2105" y="1012">3.1.4. Marketing</text></g>
<g id="c58"><text class="g" x="2219" y="966">Quản lý nội dung</text></g>
<g id="c59"><text class="g" x="2219" y="989">Quản lý chiến dịch quảng cáo</text></g>
<g id="c60"><text class="g" x="2219" y="1012">Quản lý lộ trình SEO</text></g>
<g id="c61"><text class="g" x="2219" y="1035">Quản lý chiến dịch Marketing</text></g>
<g id="c62"><text class="g" x="2219" y="1058">Quản lý email marketing</text></g>
<g id="c63"><text class="k" x="2105" y="1115">3.1.5. Sale</text></g>
<g id="c64"><text class="g" x="2194" y="1081">Quản lý hợp đồng</text></g>
<g id="c65"><text class="g" x="2194" y="1104">Quản lý khách hàng</text></g>
<g id="c66"><text class="g" x="2194" y="1126">Quản lý dịch vụ khách hàng</text></g>
<g id="c67"><text class="g" x="2194" y="1149">Quản lý quan hệ đối tác</text></g>
<g id="c68"><text class="k" x="2105" y="1184">3.1.6. Sản phẩm - Dịch vụ - Dự án</text></g>
<g id="c69"><text class="g" x="2292" y="1172">Quản lý tiến độ phát triển dịch vụ mới</text></g>
<g id="c70"><text class="g" x="2292" y="1195">Quản lý tiến độ triển khai cho khách hàng</text></g>
<g id="c71"><text class="k B" x="1844" y="1217">3.3. Quy trình làm việc liên phòng ban</text></g>
<g id="c72"><text class="g" x="2062" y="1217">Mẫu quy trình phối hợp phòng sale, marketing, kế toán và triển khai</text></g>
<g id="c73"><text class="r B" x="1520" y="1515">4. Quản lý nhân sự</text></g>
<g id="c74"><text class="k B" x="1648" y="1253">4.1. ONB - Đào tạo hội nhập Onboarding cho nhân sự mới</text></g>
<g id="c75"><text class="g" x="1952" y="1241">Quy trình đào tạo hội nhập Onboarding cho nhân sự mới</text></g>
<g id="c76"><text class="g" x="1952" y="1264">Mẫu Policy áp dụng cho toàn bộ doanh nghiệp</text></g>
<g id="mk17" class="mk"><rect x="2194" y="1251" width="64" height="18" rx="3"/><text x="2226" y="1264">Mẫu kết quả</text></g>
<g id="c77"><text class="k B" x="1648" y="1298">4.2. HRIS - Quản lý nhân sự - chấm công - tính lương - báo lương tự động</text></g>
<g id="c78"><text class="g" x="2018" y="1287">Xây dựng File quản lý nhân sự - chấm công - tính lương - báo lương</text></g>
<g id="mk18" class="mk"><rect x="2347" y="1274" width="64" height="18" rx="3"/><text x="2379" y="1287">Mẫu kết quả</text></g>
<g id="c79"><text class="g" x="2018" y="1310">File quy trình quản lý nhân sự theo mô hình vòng đời</text></g>
<g id="c80"><text class="k B" x="1648" y="1413">4.3. APR - Quản lý thủ tục hành chính - phê duyệt tự động</text></g>
<g id="c81"><text class="g" x="1953" y="1413">Xây dựng các quy trình Approval theo mẫu có sẵn và thực hiện trên Approval</text></g>
<g id="c82"><text class="g" x="2328" y="1332">Đề nghị chi tiền nội bộ</text></g>
<g id="c83"><text class="g" x="2328" y="1355">Xin nghỉ phép</text></g>
<g id="c84"><text class="g" x="2328" y="1378">Xin về sớm</text></g>
<g id="c85"><text class="g" x="2328" y="1401">Xin ứng lương</text></g>
<g id="c86"><text class="g" x="2328" y="1424">Đề nghị mua sắm trang thiết bị</text></g>
<g id="c87"><text class="g" x="2328" y="1447">Đề nghị chính sách bảo hiểm</text></g>
<g id="c88"><text class="g" x="2328" y="1470">Đề nghị chính sách hỗ trợ khác....</text></g>
<g id="mk19" class="mk"><rect x="2324" y="1479" width="64" height="18" rx="3"/><text x="2356" y="1492">Mẫu kết quả</text></g>
<g id="c89"><text class="k B" x="1648" y="1515">4.4. KMS - Hệ thống quản lý tri thức nội bộ</text></g>
<g id="c90"><text class="g" x="1884" y="1515">Cung cấp mẫu và cách làm để thu thập và tích lũy tri thức</text></g>
<g id="mk20" class="mk"><rect x="2173" y="1502" width="64" height="18" rx="3"/><text x="2205" y="1515">Mẫu kết quả</text></g>
<g id="c91"><text class="k B" x="1648" y="1685">4.5. PMS - Quản lý chi tiết công việc và chất lượng nhân sự</text></g>
<g id="c92"><text class="g" x="1958" y="1604">Xây dựng mô hình phân tách công việc WBS</text><rect x="1959" y="1609" width="170" height="14" fill="#f1f1f1"/><line class="bar" x1="1960" y1="1609" x2="1960" y2="1623"/><text class="n" x="1964" y="1620">Tài liệu mẫu cách chia WBS các thành phần</text></g>
<g id="c93"><text class="g" x="2196" y="1573">Theo công việc</text></g>
<g id="c94"><text class="g" x="2306" y="1539">Chăm sóc khách hàng</text></g>
<g id="c95"><text class="g" x="2306" y="1561">Quản lý Marketing</text></g>
<g id="c96"><text class="g" x="2306" y="1584">Triển khai cho khách hàng</text></g>
<g id="c97"><text class="g" x="2306" y="1607">Quản lý tài chính</text></g>
<g id="c98"><text class="g" x="2196" y="1630">Theo dự án</text></g>
<g id="c99"><text class="g" x="2290" y="1630">Triển khai chi tiết cho từng khách hàng</text></g>
<g id="c100"><text class="g" x="2196" y="1653">Theo mục tiêu</text></g>
<g id="c101"><text class="g" x="2303" y="1653">Sale và chốt khách hàng</text></g>
<g id="c102"><text class="g" x="1958" y="1706">Quản lý kết quả công việc theo mục tiêu (có thể quản lý task hoặc công việc</text><text class="g" x="1958" y="1719">riêng phòng ban)</text></g>
<g id="c103"><text class="g" x="2331" y="1676">Các thông tin KPIs, tích hợp trên các file công việc chuyên môn (sale,</text><text class="g" x="2331" y="1690">marketing...)</text></g>
<g id="c104"><text class="g" x="2331" y="1712">Đánh giá chất lượng nhân sự trên các file quản lý mục tiêu (KPIs, OKRs...)</text></g>
<g id="mk21" class="mk"><rect x="2327" y="1723" width="64" height="18" rx="3"/><text x="2359" y="1736">Mẫu kết quả</text></g>
<g id="c105"><text class="g" x="1958" y="1758">Tính toán thu nhập bổ sung cho nhân sự thông qua kết quả làm việc</text></g>
<g id="c106"><text class="g" x="2298" y="1758">Kết nối dữ liệu về lương và bộ phận tài chính</text></g>
<g id="c107"><text class="k B" x="1648" y="1792">4.6. ATS - Hệ thống tuyển dụng tự động</text></g>
<g id="c108"><text class="g" x="1871" y="1781">Ứng dụng mẫu tuyển dụng đã có, điều chỉnh theo nhu cầu thực</text></g>
<g id="mk22" class="mk"><rect x="2184" y="1768" width="64" height="18" rx="3"/><text x="2216" y="1781">Mẫu kết quả</text></g>
<g id="c109"><text class="g" x="1871" y="1804">File UML quy trình tuyển dụng nhân sự</text></g>
<g id="c110"><text class="r B" x="1520" y="1852">5. Phân tích dữ liệu</text><rect x="1517" y="1857" width="184" height="14" fill="#f1f1f1"/><line class="bar" x1="1517" y1="1857" x2="1517" y2="1871"/><text class="n" x="1522" y="1868">Phần này liên kết với toàn bộ Data.Fusion</text></g>
<g id="c111"><text class="g B" x="1745" y="1861">Cấu trúc để tạo đồ thị thống kê trên các file</text></g>
<g id="c112"><text class="g" x="1992" y="1826">•  Hệ thống báo cáo kết quả kinh doanh</text></g>
<g id="c113"><text class="g" x="1992" y="1849">•  Hệ thống báo cáo chất lượng nhân sự</text></g>
<g id="c114"><text class="g" x="1992" y="1872">•  Hệ thống báo cáo tài chính tập trung</text></g>
<g id="c115"><text class="g" x="1992" y="1895">•  Hệ thống báo cáo marketing tập trung</text></g>
<g id="c116"><text class="r B" x="1520" y="1918">6. Quản lý kiến thức kinh nghiệm</text><rect x="1517" y="1923" width="214" height="14" fill="#f1f1f1"/><line class="bar" x1="1517" y1="1923" x2="1517" y2="1937"/><text class="n" x="1522" y="1934">Phần này đồng bộ với KMS ở phần quản lý nhân sự</text></g>
<g id="c117"><text class="r B" x="1520" y="2263">7. Quan hệ khách hàng</text></g>
<g id="c118"><text class="k B" x="1668" y="2020">7.1. Quản lý dữ liệu khách hàng trên CDP (Customer Data Platform)</text></g>
<g id="c119"><text class="g" x="2020" y="1967">Thu thập, tổng hợp dữ liệu từ nhiều nguồn khác nhau, tạo thành một nền tảng</text><text class="g" x="2020" y="1980">dữ liệu khách hàng hợp nhất, hoàn chỉnh.</text><rect x="2021" y="1985" width="93" height="14" fill="#f1f1f1"/><line class="bar" x1="2021" y1="1985" x2="2021" y2="1999"/><text class="n" x="2026" y="1996">Chia sẻ mẫu file CRM</text></g>
<g id="c120"><text class="g" x="2404" y="1959">Zalo</text></g>
<g id="c121"><text class="g" x="2404" y="1982">Trực tiếp</text></g>
<g id="c122"><text class="g" x="2404" y="2005">Fanpage</text></g>
<g id="c123"><text class="g" x="2020" y="2028">Quản lý, chuẩn hóa thông tin khách hàng theo mẫu</text></g>
<g id="mk23" class="mk"><rect x="2282" y="2015" width="64" height="18" rx="3"/><text x="2314" y="2028">Mẫu kết quả</text></g>
<g id="c124"><text class="g" x="2020" y="2057">Quản lý doanh thu</text></g>
<g id="c125"><text class="g" x="2144" y="2051">Xây dựng hệ thống quản lý doanh thu trên 1 file duy nhất, đồng bộ dữ liệu với</text><text class="g" x="2144" y="2064">file quản lý khách hàng</text></g>
<g id="mk24" class="mk"><rect x="2521" y="2044" width="64" height="18" rx="3"/><text x="2553" y="2057">Mẫu kết quả</text></g>
<g id="c126"><text class="k B" x="1668" y="2162">7.2. Quản lý quy trình tư vấn và chốt khách hàng</text></g>
<g id="c127"><text class="g" x="1933" y="2121">Dựa vào CDP, phân chia lead khách hàng cho sale</text></g>
<g id="c128"><text class="g" x="2192" y="2088">Chia theo thứ tự</text></g>
<g id="c129"><text class="g" x="2192" y="2110">Chia ngẫu nhiên</text></g>
<g id="c130"><text class="g" x="2192" y="2133">Chia theo tỉ lệ, tùy năng lực nhân sự</text></g>
<g id="c131"><text class="g" x="2192" y="2156">Chia theo ngày có ca trực</text></g>
<g id="c132"><text class="g" x="1933" y="2179">Theo dõi quy trình chốt sale từ tiếp cận đến chốt đăng ký</text></g>
<g id="mk25" class="mk"><rect x="2220" y="2166" width="64" height="18" rx="3"/><text x="2252" y="2179">Mẫu kết quả</text></g>
<g id="c133"><text class="g" x="1933" y="2202">Xử lý thanh toán và lập hóa đơn.</text></g>
<g id="c134"><text class="k B" x="1668" y="2330">7.3. Quản lý tương tác với khách hàng (Customer Relationship Management</text><text class="k B" x="1668" y="2343">- CRM)</text></g>
<g id="c135"><text class="g" x="2060" y="2268">Kết nối các ứng dụng bên ngoài chăm sóc khách hàng tự động</text></g>
<g id="c136"><text class="g" x="2372" y="2225">Xây dựng và quản lý kịch bản chăm sóc khách hàng, làm căn cứ xây dựng và tách</text><text class="g" x="2372" y="2238">bảng trên Base</text></g>
<g id="c137"><text class="b" x="2372" y="2261">Email: Sử dụng dịch vụ email trung gian như Sendgrid, MailChimp kết nối với</text><text class="b" x="2372" y="2275">Base để thao tác trên Base và có thể gửi email theo mẫu định sẵn</text></g>
<g id="c138"><text class="b" x="2372" y="2298">Zalo (Cần có Zalo OA. Phát sinh chi phí đấu nối, gửi tin):</text><text class="b" x="2380" y="2311">•  Xây app kết nối Zalo với Base để thao tác trên Base và có thể gửi email theo</text><text class="b" x="2389" y="2324">mẫu định sẵn.</text></g>
<g id="c139"><text class="b" x="2060" y="2396">Kịch bản chăm sóc khách tự động hoặc bán tự động</text><rect x="2061" y="2401" width="170" height="14" fill="#f1f1f1"/><line class="bar" x1="2061" y1="2401" x2="2061" y2="2415"/><text class="n" x="2066" y="2412">Xây dựng mẫu có sẵn theo các nền tảng</text></g>
<g id="c140"><text class="b" x="2328" y="2347">Cảm ơn khách hàng sau khi chốt hợp đồng</text></g>
<g id="c141"><text class="b" x="2328" y="2370">Xác nhận với khách hàng sau mỗi lần thanh toán</text></g>
<g id="c142"><text class="b" x="2328" y="2393">Chúc mừng, hỏi thăm khách hàng nhân các dịp lễ</text></g>
<g id="c143"><text class="b" x="2328" y="2416">Chúc mừng sinh nhật</text></g>
<g id="c144"><text class="b" x="2328" y="2439">Cung cấp thông tin hỗ trợ</text></g>
<g id="c145"><text class="b" x="2328" y="2462">Nhắc nhở khách hàng các thông tin về chuyên môn định kỳ trong năm</text></g>
<g id="c146"><text class="k B" x="1668" y="2506">7.4. Quản lý trải nghiệm khách hàng</text></g>
<g id="c147"><text class="b" x="1878" y="2485">Thu thập phản hồi và phân tích dữ liệu về trải nghiệm của khách hàng: Sử dụng</text><text class="b" x="1878" y="2499">form trên Lark gửi cho khách hàng.</text></g>
<g id="c148"><text class="b" x="1878" y="2522">Hỗ trợ khách hàng dài hạn sau khi xong hợp đồng</text></g>
<g id="c149"><text class="rl" x="1520" y="2672">8. Công cụ tự động hóa và AI</text></g>
<g id="c150"><text class="k B" x="1692" y="2556">8.1. Tự động hóa xử lý dữ liệu thông qua Anycross</text></g>
<g id="c151"><text class="g" x="1962" y="2545">Lấy thông tin chấm công để tính lương</text></g>
<g id="c152"><text class="g" x="1962" y="2568">Đồng bộ dữ liệu giữa các file Base khi dùng bản Lark miễn phí</text></g>
<g id="c153"><text class="k B" x="1692" y="2787">8.2. Các công cụ tự động hóa có sẵn ở Lark Base</text></g>
<g id="c154"><text class="k" x="1953" y="2590">Ban quản trị</text></g>
<g id="c155"><text class="b" x="2050" y="2590">Tự động gửi các đồ thị báo cáo theo thời gian định kỳ</text></g>
<g id="c156"><text class="k" x="1953" y="2716">Nhân sự</text></g>
<g id="c157"><text class="k" x="2033" y="2647">ATS</text></g>
<g id="c158"><text class="g" x="2095" y="2613">Tự động thông báo đến leader khi HR cập nhật hồ sơ ứng viên mới</text></g>
<g id="c159"><text class="g" x="2095" y="2636">Tự động thông báo đến HR khi leader quyết định phỏng vấn</text></g>
<g id="c160"><text class="g" x="2095" y="2659">Tự động báo với cả team khi có thành viên mới tham gia team</text></g>
<g id="c161"><text class="b" x="2095" y="2681">Tự động gửi email cảm ơn ứng viên khi có hồ sơ mới nhập vào</text></g>
<g id="c162"><text class="k" x="2033" y="2716">HRIS</text></g>
<g id="c163"><text class="g" x="2099" y="2705">Tự động gửi thông báo lương cho nhân viên và cho xác nhận</text></g>
<g id="c164"><text class="b" x="2099" y="2728">Tự động tương tác với ứng viên theo thời gian và mô hình vòng đời nhân sự</text></g>
<g id="c165"><text class="k" x="2033" y="2784">PMS</text></g>
<g id="c166"><text class="g" x="2097" y="2751">Tự động thông báo khi nhân viên cập nhật báo cáo công việc</text></g>
<g id="c167"><text class="g" x="2097" y="2773">Tự động gửi báo cáo và xếp hạng nhân viên theo chu kỳ</text></g>
<g id="c168"><text class="g" x="2097" y="2796">Tự động nhắc nhở nhân viên nhập báo cáo khi đến hạn</text></g>
<g id="c169"><text class="g" x="2097" y="2819">Tự động nhắc nhở nhân viên hoàn thiện task khi gần đến deadline</text></g>
<g id="c170"><text class="k" x="1953" y="2857">Tài chính</text></g>
<g id="c171"><text class="g" x="2037" y="2842">Tự động gửi thông tin đến các bộ phận liên quan khi có yêu cầu thu/chi</text></g>
<g id="c172"><text class="g" x="2037" y="2865">Tự động gửi thông tin đến nhân sự liên quan khi bộ phận tài chính đã thực hiện</text><text class="g" x="2037" y="2878">thanh toán</text></g>
<g id="c173"><text class="k" x="1953" y="2913">Kinh doanh</text></g>
<g id="c174"><text class="g" x="2048" y="2901">Tự động thông báo với nhóm khi có khách mới được nhập vào</text></g>
<g id="c175"><text class="g" x="2048" y="2924">Tự động thông báo cho nhân viên sale về kết quả kinh doanh</text></g>
<g id="c176"><text class="k" x="1953" y="2947">Marketing</text></g>
<g id="c177"><text class="g" x="2041" y="2947">Tự động tổng kết chi phí marketing theo kênh và theo chu kỳ thời gian</text></g>
<g id="c178"><text class="k" x="1953" y="2984">Sản phẩm - dịch vụ - dự án</text></g>
<g id="c179"><text class="g" x="2113" y="2970">Tự động thông báo đến bộ phận liên quan khi có khách mới</text></g>
<g id="c180"><text class="g" x="2113" y="2992">Tự động cảnh báo đến bộ phận quản lý khi số sản phẩm vật lý trong kho dưới</text><text class="g" x="2113" y="3006">hạn mức</text></g>
</svg>
